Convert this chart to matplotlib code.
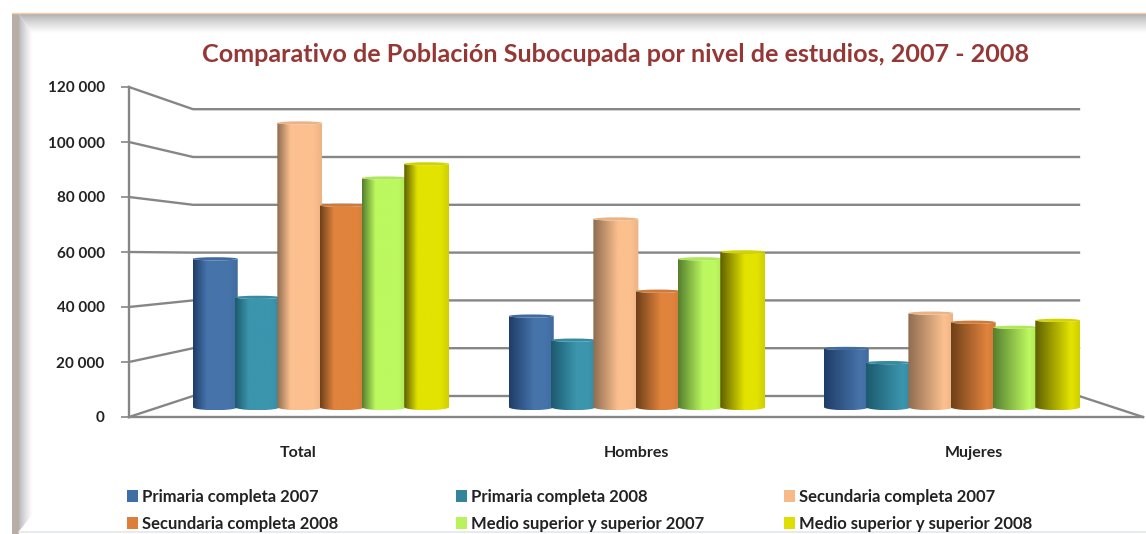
import matplotlib
matplotlib.use('Agg')
import matplotlib.pyplot as plt
from matplotlib.colors import to_rgb
from matplotlib.patches import Polygon, Ellipse, Patch
from matplotlib.transforms import IdentityTransform
import numpy as np

plt.rcParams['font.family'] = ['Lato', 'DejaVu Sans']

groups = ['Total', 'Hombres', 'Mujeres']
series = ['Primaria completa 2007', 'Primaria completa 2008',
          'Secundaria completa 2007', 'Secundaria completa 2008',
          'Medio superior y superior 2007', 'Medio superior y superior 2008']
primaria_2007 = [55400, 34000, 21900]
primaria_2008 = [41000, 25000, 16600]
secundaria_2007 = [106200, 70300, 35100]
secundaria_2008 = [75400, 43300, 31700]
superior_2007 = [85600, 55400, 29800]
superior_2008 = [90900, 58000, 32400]
y_ticks = [0, 20000, 40000, 60000, 80000, 100000, 120000]

light = ['#4673aa', '#3b95ad', '#fcc08f', '#e0833d', '#bcf85f', '#e3e300']
dark = ['#1f3d68', '#1c5a6e', '#8f6c50', '#6f4019', '#557f2e', '#5f5f00']
key_colors = ['#3f6ea6', '#33859b', '#f7b98a', '#dd7f38', '#b9f25c', '#dede00']
all_values = [primaria_2007, primaria_2008, secundaria_2007,
              secundaria_2008, superior_2007, superior_2008]

W, H = 1146, 534
UNITS_PER_PX = 20000 / 55


def px_axes(x0, y_top, x1, y_bottom):
    return [x0 / W, 1 - y_bottom / H, (x1 - x0) / W, (y_bottom - y_top) / H]


def back_y(v):
    return v * 47.8 / 55 + 21 * UNITS_PER_PX


def bar_y(v):
    return v * 53.5 / 55 + 10 * UNITS_PER_PX


def cylinder(ax, x0, width, v, lo, hi, dark_part, z):
    y0, y1 = bar_y(0), bar_y(v)
    rx, ry = width / 2, 3.2 * UNITS_PER_PX
    cx = x0 + rx
    t = np.linspace(np.pi, 2 * np.pi, 40)
    xs = np.r_[cx + rx * np.cos(t), cx + rx * np.cos(t[::-1])]
    ys = np.r_[y0 + ry * np.sin(t), y1 + ry * np.sin(t)[::-1] * 0.5]
    body = Polygon(np.c_[xs, ys], closed=True, fc='none', ec='none', zorder=z)
    ax.add_patch(body)
    u = np.linspace(0, 1, 80)
    ramp = np.interp(u, [0, dark_part, 0.82, 1], [0, 1, 1, 0.85])[None, :, None]
    lo_c = np.array(to_rgb(lo))[None, None, :]
    hi_c = np.array(to_rgb(hi))[None, None, :]
    rgb = lo_c + (hi_c - lo_c) * ramp
    im = ax.imshow(rgb, extent=[x0, x0 + width, y0 - ry, y1 + ry], aspect='auto',
                   origin='lower', zorder=z, interpolation='bilinear')
    im.set_clip_path(body)
    cap = tuple(np.array(to_rgb(hi)) * 0.93)
    ax.add_patch(Ellipse((cx, y1), width, ry, fc=cap, ec='none', zorder=z + 0.1))


fig = plt.figure(figsize=(W / 100, H / 100), dpi=100, facecolor='white')

# slide frame behind the chart
bg = fig.add_axes([0, 0, 1, 1], zorder=0)
bg.set_axis_off()
fade = np.linspace(0, 1, 64)
top_band = np.array([[[g, g, g]] for g in 0.68 + 0.32 * fade ** 0.8])
im = bg.imshow(top_band, extent=[0, W, 33, 14], aspect='auto', origin='upper')
im.set_clip_path(Polygon([[19, 14], [W, 14], [W, 33], [32, 33]], transform=bg.transData))
left_band = np.array([[[g - 0.03 * (1 - g), g - 0.01, g] for g in 0.72 + 0.28 * fade ** 0.8]])
im = bg.imshow(left_band, extent=[19, 32, 534, 0], aspect='auto')
im.set_clip_path(Polygon([[19, 14], [32, 33], [32, 515], [19, 531]], transform=bg.transData))
bg.add_patch(Polygon([[12, 14], [19, 14], [19, 534], [12, 534]], fc='#b8aea6', ec='none'))
bg.plot([12, W], [13, 13], color='#f5cfa8', lw=1)
bg.plot([19, W], [531.5, 531.5], color='#e4e6e8', lw=1.2)
bg.set_xlim(0, W)
bg.set_ylim(H, 0)

ax = fig.add_axes(px_axes(129, 87, 1143, 417), zorder=1)
ax.patch.set_alpha(0)

# walls and floor, the back wall sits behind the bars
grid_c = '#868686'
back_l, back_r = 64 / 338, 3 - 64 / 338
for v in y_ticks:
    ax.plot([0, back_l, back_r], [v, back_y(v), back_y(v)], color=grid_c, lw=1.7,
            clip_on=False, zorder=1, solid_joinstyle='miter')
ax.plot([back_r, 3], [back_y(0), 0], color=grid_c, lw=1.7, clip_on=False, zorder=1)

group_x = [0.568, 1.503, 2.435]
bar_w = 45 / 338
bar_step = 42.3 / 338
dark_parts = [0.3, 0.55, 0.8]
for g in range(len(groups)):
    for s, vals in enumerate(all_values):
        left = group_x[g] + (s - 3) * bar_step - (bar_w - bar_step) / 2
        cylinder(ax, left, bar_w, vals[g], dark[s], light[s], dark_parts[g], 2 + s + g * 10)

ax.set_xlim(0, 3)
ax.set_ylim(0, 120000)
ax.set_xticks([0.5, 1.5, 2.5], groups, fontsize=11.5, color='#222222', fontweight='bold')
ax.tick_params(axis='x', length=0, pad=21)
ax.set_yticks(y_ticks, [f'{v:,}'.replace(',', ' ') for v in y_ticks],
              fontsize=11, fontweight='bold', color='#222222')
ax.tick_params(axis='y', length=5.5, width=1.2, color=grid_c, pad=12)
for side in ['top', 'right']:
    ax.spines[side].set_visible(False)
for side in ['left', 'bottom']:
    ax.spines[side].set_color(grid_c)
    ax.spines[side].set_linewidth(1.7)

fig.text(616 / W, 1 - 55 / H, 'Comparativo de Población Subocupada por nivel de estudios, 2007 - 2008',
         ha='center', va='center', fontsize=18.1, color='#953735', fontweight='bold')

# one legend per column so the columns land where the reference has them
col_x = [120, 449, 777]
for c in range(3):
    handles = [Patch(fc=key_colors[c + r * 3], ec='none', label=series[c + r * 3]) for r in range(2)]
    leg = fig.legend(handles=handles, loc='upper left', bbox_to_anchor=(col_x[c], H - 482),
                     bbox_transform=IdentityTransform(), frameon=False, prop={'size': 12, 'weight': 'bold'},
                     labelspacing=0.68, handlelength=0.7, handleheight=0.7, handletextpad=0.2,
                     borderpad=0, borderaxespad=0.4, labelcolor='#222222')

fig.savefig('out.png', dpi=100)
